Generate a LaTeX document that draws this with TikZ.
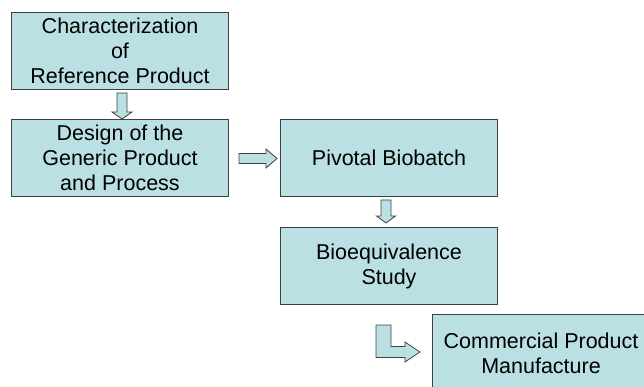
\documentclass[tikz,border=0pt]{standalone}
\usepackage{fontspec}
\setmainfont{Liberation Sans}
\usetikzlibrary{calc}
\definecolor{boxfill}{RGB}{187,224,227}
\definecolor{boxline}{RGB}{64,64,64}
\begin{document}
\begin{tikzpicture}[x=1pt,y=-1pt,
  stagebox/.style={draw=boxline, fill=boxfill, line width=1pt, minimum width=217pt, minimum height=77pt,
    inner sep=0pt, align=center, anchor=north west, font=\fontsize{21.5}{25}\selectfont},
  blockarrow/.style={draw=boxline, fill=boxfill, line width=0.8pt, line join=miter}]
\useasboundingbox (0,0) rectangle (644,387);
\clip (0,0) rectangle (644,387);
\node[stagebox] (char) at (11,12) {Characterization\\of\\Reference Product};
\node[stagebox] (design) at (11,119) {Design of the\\Generic Product\\and Process};
\node[stagebox] (pivot) at (280,119) {Pivotal Biobatch};
\node[stagebox] (bio) at (280,227) {Bioequivalence\\Study};
\node[stagebox] (comm) at (432,314) {Commercial Product\\Manufacture};
% down arrow 1
\coordinate (a1top) at ($(char.south)+(2,3)$);
\coordinate (a1tip) at ($(design.north)+(2,0)$);
\draw[blockarrow] ($(a1top)+(-5,0)$) -- ($(a1top)+(5,0)$) -- ($(a1tip)+(5,-7)$) -- ($(a1tip)+(10,-7)$)
  -- (a1tip) -- ($(a1tip)+(-10,-7)$) -- ($(a1tip)+(-5,-7)$) -- cycle;
% right arrow
\coordinate (a2start) at ($(design.east)+(10,0.5)$);
\coordinate (a2tip) at ($(pivot.west)+(-3,0.5)$);
\draw[blockarrow] ($(a2start)+(0,-5)$) -- ($(a2tip)+(-11,-5)$) -- ($(a2tip)+(-11,-9.5)$) -- (a2tip)
  -- ($(a2tip)+(-11,9.5)$) -- ($(a2tip)+(-11,5)$) -- ($(a2start)+(0,5)$) -- cycle;
% down arrow 2
\coordinate (a3top) at ($(pivot.south)+(-3,3)$);
\coordinate (a3tip) at ($(bio.north)+(-3,-4)$);
\draw[blockarrow] ($(a3top)+(-5,0)$) -- ($(a3top)+(5,0)$) -- ($(a3tip)+(5,-7)$) -- ($(a3tip)+(9.5,-7)$)
  -- (a3tip) -- ($(a3tip)+(-9.5,-7)$) -- ($(a3tip)+(-5,-7)$) -- cycle;
% bent arrow
\coordinate (a4tip) at ($(comm.west)+(-12,-1)$);
\draw[blockarrow] ($(a4tip)+(-44,-27)$) -- ($(a4tip)+(-29,-27)$) -- ($(a4tip)+(-29,-5.5)$) -- ($(a4tip)+(-15,-5.5)$)
  -- ($(a4tip)+(-15,-10)$) -- (a4tip) -- ($(a4tip)+(-15,10)$) -- ($(a4tip)+(-15,5.5)$) -- ($(a4tip)+(-44,5.5)$) -- cycle;
\end{tikzpicture}
\end{document}
